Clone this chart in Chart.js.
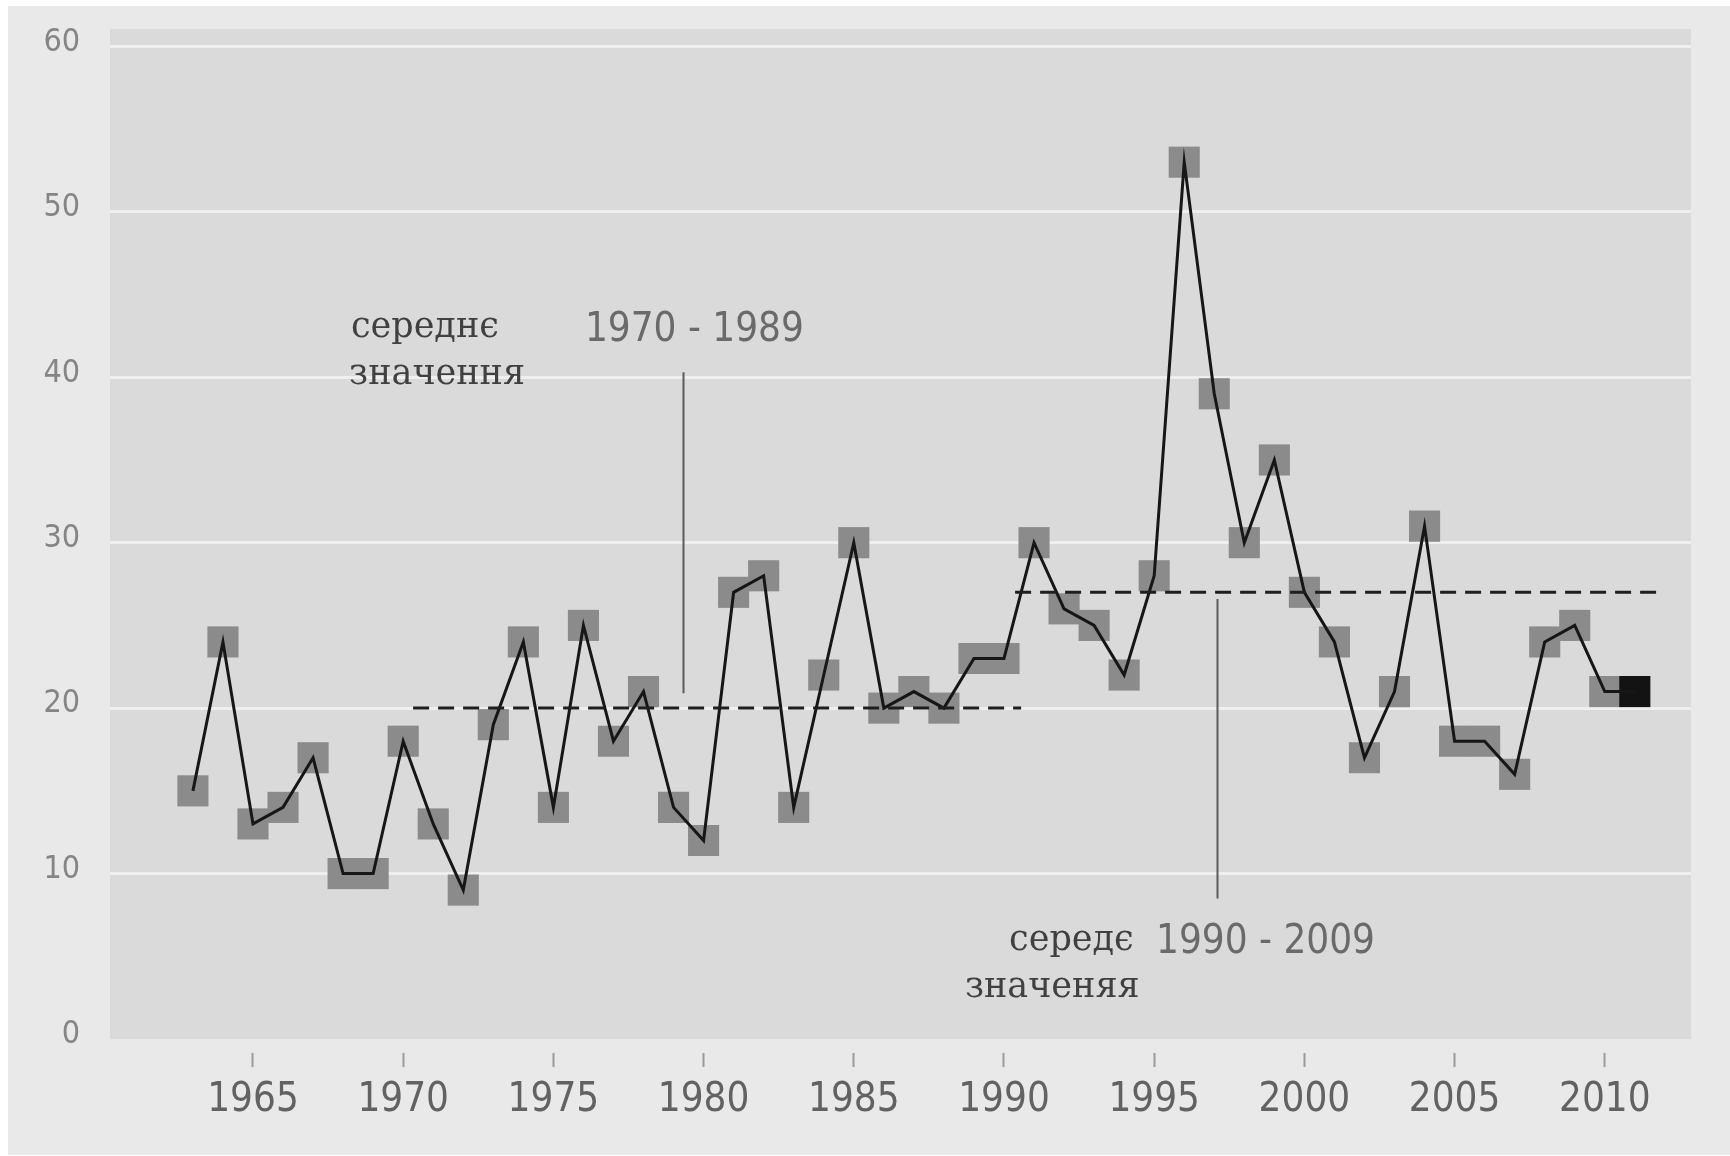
<!DOCTYPE html>
<html lang="uk">
<head>
    <meta charset="UTF-8">
    <title>Середнє значення 1970 - 1989 / 1990 - 2009</title>
    <script src="https://cdn.jsdelivr.net/npm/chart.js"></script>
    <style>
        html, body { margin: 0; padding: 0; background: #ffffff; }
        canvas { display: block; }
    </style>
</head>
<body>
    <canvas id="grafico" width="1730" height="1156"></canvas>

    <script>
        // dados
        const anos = [1963, 1964, 1965, 1966, 1967, 1968, 1969, 1970, 1971, 1972,
                      1973, 1974, 1975, 1976, 1977, 1978, 1979, 1980, 1981, 1982,
                      1983, 1984, 1985, 1986, 1987, 1988, 1989, 1990, 1991, 1992,
                      1993, 1994, 1995, 1996, 1997, 1998, 1999, 2000, 2001, 2002,
                      2003, 2004, 2005, 2006, 2007, 2008, 2009, 2010, 2011];
        const valores = [15, 24, 13, 14, 17, 10, 10, 18, 13, 9,
                         19, 24, 14, 25, 18, 21, 14, 12, 27, 28,
                         14, 22, 30, 20, 21, 20, 23, 23, 30, 26,
                         25, 22, 28, 53, 39, 30, 35, 27, 24, 17,
                         21, 31, 18, 18, 16, 24, 25, 21, 21];

        const ticksX = [1965, 1970, 1975, 1980, 1985, 1990, 1995, 2000, 2005, 2010];
        const ticksY = [0, 10, 20, 30, 40, 50, 60];

        // linhas tracejadas das médias
        const mediaInicio = [1970.33, 1990.37];
        const mediaFim = [1990.57, 2011.84];
        const mediaValor = [20, 27];

        // traços verticais das legendas
        const tracoAno = [1979.31, 1997.09];
        const tracoDe = [20.9, 8.5];
        const tracoAte = [40.3, 26.6];

        // textos
        const textos = ['середнє', 'значення', '1970 - 1989', 'середє', 'значеняя', '1990 - 2009'];
        const textoAno = [1968.26, 1968.2, 1976.05, 1990.17, 1988.7, 1995.06];
        const textoValor = [43.0, 40.15, 42.8, 5.93, 3.08, 5.8];
        const textoSerif = [true, true, false, true, true, false];

        const fonteSans = '"DejaVu Sans Condensed", "Liberation Sans Narrow", "DejaVu Sans", sans-serif';
        const fonteSerif = '"DejaVu Serif", "Liberation Serif", serif';

        const pontos = anos.map((a, i) => ({ x: a, y: valores[i] }));
        const ultimo = pontos.length - 1;

        const fundo = {
            id: 'fundo',
            beforeDraw(chart) {
                const { ctx, chartArea: a } = chart;
                ctx.save();
                ctx.fillStyle = '#ffffff';
                ctx.fillRect(0, 0, chart.width, chart.height);
                ctx.fillStyle = '#e9e9e9';
                ctx.fillRect(8, 6, chart.width - 8, chart.height - 7);
                ctx.fillStyle = '#dadada';
                ctx.fillRect(a.left, a.top, a.right - a.left, a.bottom - a.top);
                ctx.restore();
            }
        };

        const anotacoes = {
            id: 'anotacoes',
            afterDatasetsDraw(chart) {
                const { ctx } = chart;
                const x = chart.scales.x, y = chart.scales.y;
                ctx.save();

                // médias
                ctx.strokeStyle = '#1e1e1e';
                ctx.lineWidth = 3;
                ctx.setLineDash([16, 9]);
                for (let i = 0; i < mediaValor.length; i++) {
                    ctx.beginPath();
                    ctx.moveTo(x.getPixelForValue(mediaInicio[i]), y.getPixelForValue(mediaValor[i]));
                    ctx.lineTo(x.getPixelForValue(mediaFim[i]), y.getPixelForValue(mediaValor[i]));
                    ctx.stroke();
                }

                // traços verticais
                ctx.setLineDash([]);
                ctx.strokeStyle = '#5a5a5a';
                ctx.lineWidth = 2;
                for (let i = 0; i < tracoAno.length; i++) {
                    const px = Math.round(x.getPixelForValue(tracoAno[i])) + 0.5;
                    ctx.beginPath();
                    ctx.moveTo(px, y.getPixelForValue(tracoAte[i]));
                    ctx.lineTo(px, y.getPixelForValue(tracoDe[i]));
                    ctx.stroke();
                }

                // textos
                ctx.textAlign = 'left';
                ctx.textBaseline = 'middle';
                for (let i = 0; i < textos.length; i++) {
                    if (textoSerif[i]) {
                        ctx.font = '35px ' + fonteSerif;
                        ctx.fillStyle = '#404040';
                    } else {
                        ctx.font = '40px ' + fonteSans;
                        ctx.fillStyle = '#6a6a6a';
                    }
                    ctx.fillText(textos[i], x.getPixelForValue(textoAno[i]), y.getPixelForValue(textoValor[i]));
                }
                ctx.restore();
            }
        };

        new Chart(document.getElementById('grafico'), {
            type: 'line',
            data: {
                datasets: [{
                    data: pontos,
                    borderColor: '#161616',
                    borderWidth: 3,
                    pointRadius: 0,
                    tension: 0,
                    order: 1
                }, {
                    data: pontos,
                    showLine: false,
                    pointStyle: 'rect',
                    pointRadius: 22,
                    pointBorderWidth: 0,
                    pointBackgroundColor: ctx => ctx.dataIndex === ultimo ? '#131313' : '#8b8b8b',
                    order: 2
                }]
            },
            options: {
                responsive: false,
                animation: false,
                devicePixelRatio: 1,
                layout: { autoPadding: false, padding: { top: 29, right: 39, left: 0, bottom: 0 } },
                plugins: {
                    legend: { display: false },
                    tooltip: { enabled: false }
                },
                scales: {
                    x: {
                        type: 'linear',
                        min: 1960.24,
                        max: 2012.87,
                        afterFit: s => { s.height = 117; s.paddingLeft = 0; s.paddingRight = 0; },
                        afterBuildTicks: s => { s.ticks = ticksX.map(v => ({ value: v })); },
                        border: { display: false },
                        grid: {
                            drawOnChartArea: false,
                            drawTicks: true,
                            tickLength: 28,
                            tickWidth: 2,
                            tickColor: '#9a9a9a',
                            tickBorderDash: [14, 14],
                            tickBorderDashOffset: 14
                        },
                        ticks: {
                            padding: 10,
                            maxRotation: 0,
                            color: '#626262',
                            font: { family: fonteSans, size: 40 },
                            callback: v => String(v)
                        }
                    },
                    y: {
                        min: 0,
                        max: 61.05,
                        afterFit: s => { s.width = 110; s.paddingTop = 0; s.paddingBottom = 0; },
                        afterBuildTicks: s => { s.ticks = ticksY.map(v => ({ value: v })); },
                        border: { display: false },
                        grid: {
                            drawTicks: false,
                            lineWidth: 3,
                            color: ctx => ctx.tick && ctx.tick.value === 0 ? 'rgba(0,0,0,0)' : '#efefef'
                        },
                        ticks: {
                            padding: 30,
                            labelOffset: -4,
                            color: '#858585',
                            font: { family: fonteSans, size: 32 }
                        }
                    }
                }
            },
            plugins: [fundo, anotacoes]
        });
    </script>
</body>
</html>
